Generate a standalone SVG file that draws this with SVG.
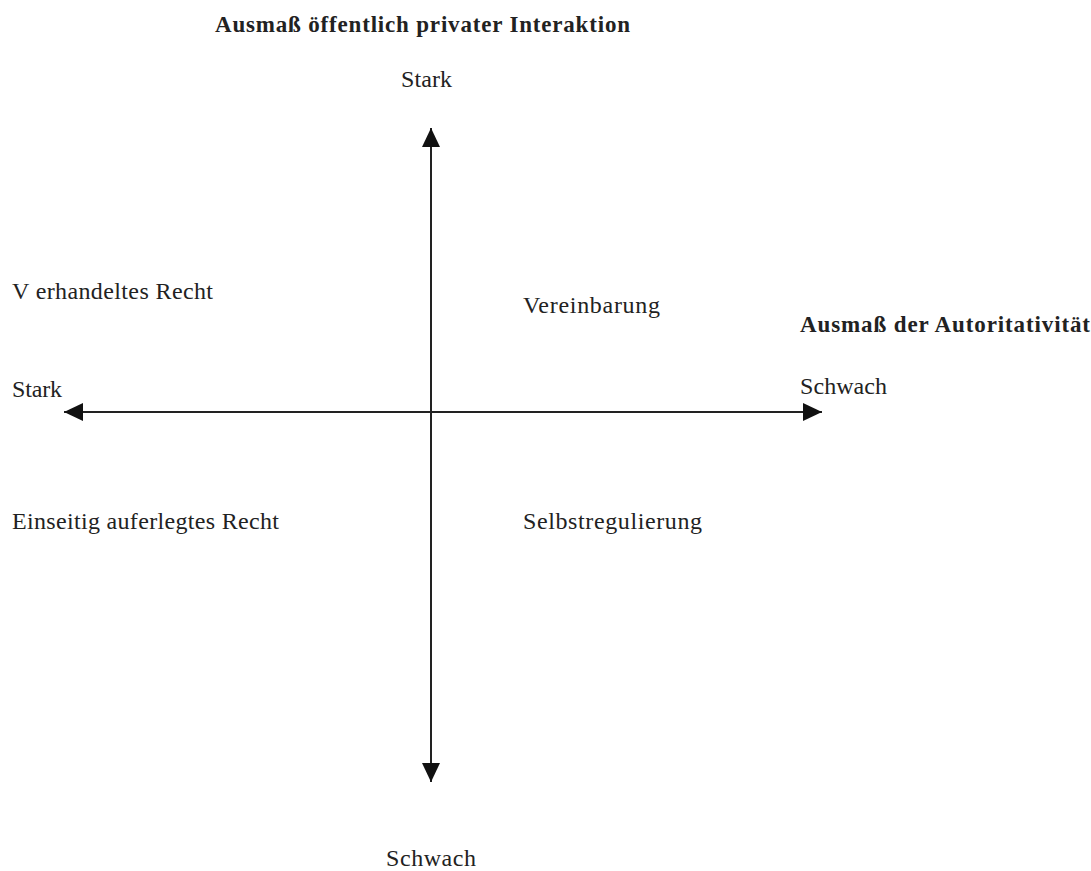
<svg xmlns="http://www.w3.org/2000/svg" width="1091" height="871" viewBox="0 0 1091 871">
<style>
text{font-family:"Liberation Serif","Times New Roman",serif;fill:#222;font-size:24px}
.b{font-weight:bold;font-size:23px}
.axis{stroke:#222;stroke-width:2;fill:none}
</style>
<defs>
<marker id="ah" markerUnits="userSpaceOnUse" markerWidth="20" markerHeight="19" refX="19" refY="9" orient="auto-start-reverse">
<path d="M0,0 L19,9 L0,18 z" fill="#111"/>
</marker>
</defs>
<rect width="1091" height="871" fill="#fff"/>
<g id="connectors">
<line class="axis" x1="431" y1="128" x2="431" y2="782" marker-start="url(#ah)" marker-end="url(#ah)"/>
<line class="axis" x1="64" y1="412" x2="822" y2="412" marker-start="url(#ah)" marker-end="url(#ah)"/>
</g>
<g id="title-vertical"><text class="b" x="215" y="32" textLength="415" lengthAdjust="spacing">Ausmaß öffentlich privater Interaktion</text></g>
<g id="stark-top"><text x="401" y="87" textLength="51" lengthAdjust="spacing">Stark</text></g>
<g id="schwach-bottom"><text x="386" y="866" textLength="90" lengthAdjust="spacing">Schwach</text></g>
<g id="title-horizontal"><text class="b" x="800" y="332" textLength="290" lengthAdjust="spacing">Ausmaß der Autoritativität</text></g>
<g id="stark-left"><text x="12" y="397" textLength="50" lengthAdjust="spacing">Stark</text></g>
<g id="schwach-right"><text x="800" y="394" textLength="87" lengthAdjust="spacing">Schwach</text></g>
<g id="verhandeltes-recht"><text x="12" y="299" textLength="201" lengthAdjust="spacing">V erhandeltes Recht</text></g>
<g id="vereinbarung"><text x="523" y="313" textLength="137" lengthAdjust="spacing">Vereinbarung</text></g>
<g id="einseitig"><text x="12" y="529" textLength="267" lengthAdjust="spacing">Einseitig auferlegtes Recht</text></g>
<g id="selbstregulierung"><text x="523" y="529" textLength="179" lengthAdjust="spacing">Selbstregulierung</text></g>
</svg>
